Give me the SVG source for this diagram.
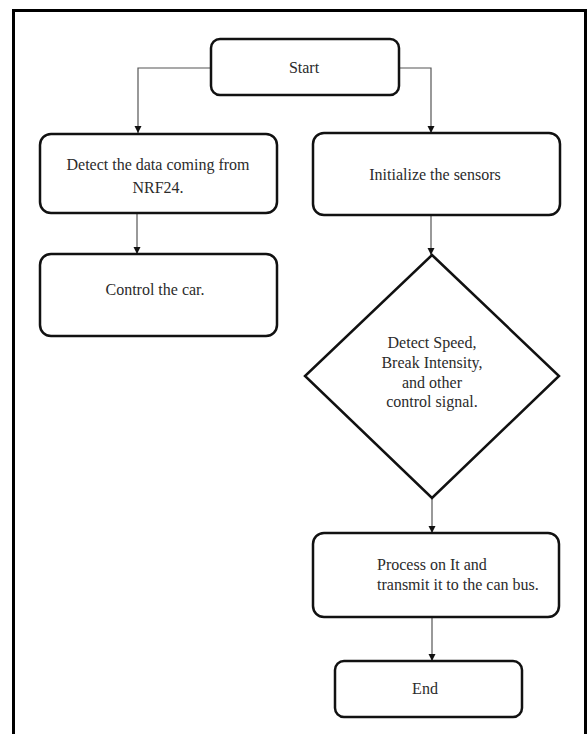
<svg xmlns="http://www.w3.org/2000/svg" width="587" height="734" viewBox="0 0 587 734">
<style>
.node{fill:#fff;stroke:#111;stroke-width:2.5}
.t{font-family:"Liberation Serif","Times New Roman",serif;font-size:16px;fill:#2b2b2b}
.c{text-anchor:middle}
.conn{fill:none;stroke:#555;stroke-width:1.2}
</style>
<defs>
<marker id="ah" viewBox="0 0 10 10" refX="10" refY="5" markerWidth="7" markerHeight="8" markerUnits="userSpaceOnUse" orient="auto">
<path d="M0,0 L10,5 L0,10 z" fill="#111"/>
</marker>
</defs>
<rect width="587" height="734" fill="#fff"/>
<path d="M13.5,740 L13.5,10.5 L585.5,10.5 L585.5,740" fill="none" stroke="#000" stroke-width="3"/>
<g id="connectors">
<path class="conn" d="M211,68 H138 V133" marker-end="url(#ah)"/>
<path class="conn" d="M399,68 H431 V133" marker-end="url(#ah)"/>
<path class="conn" d="M137,213 V254" marker-end="url(#ah)"/>
<path class="conn" d="M431,215 V255" marker-end="url(#ah)"/>
<path class="conn" d="M432,498 V533" marker-end="url(#ah)"/>
<path class="conn" d="M432,617 V661" marker-end="url(#ah)"/>
</g>
<g id="start">
<rect class="node" x="211" y="39" width="188" height="56" rx="9"/>
<text class="t c" x="304" y="73">Start</text>
</g>
<g id="detect">
<rect class="node" x="40" y="134" width="237" height="79" rx="11"/>
<text class="t c" x="158" y="170">Detect the data coming from</text>
<text class="t c" x="158" y="193">NRF24.</text>
</g>
<g id="init">
<rect class="node" x="313" y="133" width="247" height="82" rx="11"/>
<text class="t c" x="435" y="180">Initialize the sensors</text>
</g>
<g id="control">
<rect class="node" x="40" y="254" width="237" height="82" rx="11"/>
<text class="t c" x="155" y="295">Control the car.</text>
</g>
<g id="decision">
<polygon class="node" points="432,255 559,376 432,498 305,376"/>
<text class="t c" x="432" y="348">Detect Speed,</text>
<text class="t c" x="432" y="368">Break Intensity,</text>
<text class="t c" x="432" y="388">and other</text>
<text class="t c" x="432" y="407">control signal.</text>
</g>
<g id="process">
<rect class="node" x="313" y="533" width="246" height="84" rx="11"/>
<text class="t" x="377" y="570">Process on It and</text>
<text class="t" x="377" y="590">transmit it to the can bus.</text>
</g>
<g id="end">
<rect class="node" x="335" y="661" width="187" height="56" rx="9"/>
<text class="t c" x="425" y="694">End</text>
</g>
</svg>
